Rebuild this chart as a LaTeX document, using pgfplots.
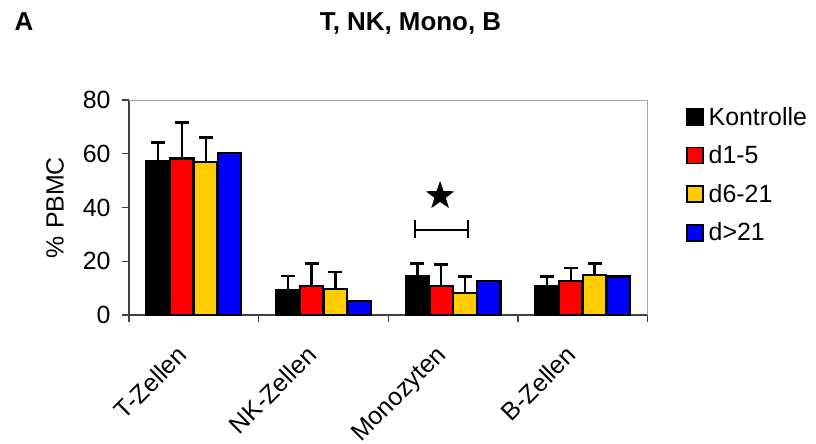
\documentclass[border=0pt]{standalone}
\usepackage{fontspec}
\setmainfont{Liberation Sans}
\usepackage{pgfplots}
\pgfplotsset{compat=1.18}
\usetikzlibrary{shapes.geometric}

\definecolor{cRed}{HTML}{FF0000}
\definecolor{cYel}{HTML}{FFCC00}
\definecolor{cBlu}{HTML}{0000FF}
\definecolor{axgray}{HTML}{404040}

\newcommand{\chartfont}{\fontsize{25}{30}\selectfont}

\pgfplotsset{
  errstyle/.style={
    error bars/y dir=plus, error bars/y explicit,
    error bars/error bar style={black, line width=2.4bp},
    error bars/error mark options={black, rotate=90, mark size=7bp, line width=2.4bp}},
}

\begin{document}
\begin{tikzpicture}[font=\chartfont]
\useasboundingbox (0,0) rectangle (816bp,444bp);
\begin{axis}[
  at={(129bp,129bp)}, anchor=south west,
  scale only axis, width=518.5bp, height=215bp,
  xmin=-0.5, xmax=3.5, ymin=0, ymax=80,
  ybar=0.5bp, bar width=23.3bp,
  axis x line*=bottom, axis y line*=left,
  axis line style={axgray, line width=1.3bp},
  tick style={axgray, line width=1.3bp},
  tick align=outside, major tick length=7bp,
  tick label style={font=\chartfont},
  label style={font=\chartfont},
  xtick={-0.5,0.5,1.5,2.5,3.5}, xticklabels={},
  extra x ticks={0,1,2,3},
  extra x tick labels={T-Zellen,NK-Zellen,Monozyten,B-Zellen},
  extra x tick style={major tick length=0pt,
    tick label style={anchor=north east, inner sep=0pt,
      xshift=-18bp, yshift=-29bp, rotate=45}},
  ytick={0,20,40,60,80},
  /pgf/number format/assume math mode=true,
  yticklabel style={xshift=-8bp},
  ylabel={\% PBMC},
  ylabel style={yshift=12bp},
  clip=false,
  legend style={draw=none, fill=none, at={(1.074,0.967)}, anchor=north west,
    row sep=19bp, inner sep=0pt, cells={anchor=west},
    nodes={inner xsep=5bp, inner ysep=0pt}, font=\chartfont},
  legend image code/.code={\draw[#1, draw=black, line width=1.6bp]
    (0bp,-8bp) rectangle (16bp,8bp);},
  every axis plot/.append style={draw=black, line width=2.2bp},
]
% Kontrolle
\addplot[fill=black, errstyle] coordinates {
  (0,57.3) +- (0,6.9)
  (1,9.3)  +- (0,5.3)
  (2,14.5) +- (0,4.7)
  (3,10.9) +- (0,3.4)};
% d1-5
\addplot[fill=cRed, errstyle] coordinates {
  (0,58.2) +- (0,13.4)
  (1,10.8) +- (0,8.3)
  (2,10.8) +- (0,8.0)
  (3,12.6) +- (0,5.0)};
% d6-21
\addplot[fill=cYel, errstyle] coordinates {
  (0,57.0) +- (0,9.1)
  (1,9.7)  +- (0,6.2)
  (2,8.3)  +- (0,6.0)
  (3,14.9) +- (0,4.2)};
% d>21
\addplot[fill=cBlu] coordinates {
  (0,60.4) (1,5.3) (2,12.8) (3,14.3)};
\legend{Kontrolle,d1-5,d6-21,d>21}

% thin frame on top and right
\draw[gray!70, line width=0.8bp] (rel axis cs:0,1) -- (rel axis cs:1,1) -- (rel axis cs:1,0);

% significance bracket between Kontrolle and d6-21 (Monozyten)
\draw[black, line width=2bp] (axis cs:1.707,31.6) -- (axis cs:2.116,31.6);
\draw[black, line width=2bp] (axis cs:1.707,28.8) -- (axis cs:1.707,35.3);
\draw[black, line width=2bp] (axis cs:2.116,28.8) -- (axis cs:2.116,35.3);
\node[star, star points=5, star point ratio=2.5, fill=black, inner sep=0pt,
  minimum size=30bp] at (axis cs:1.90,44.3) {};
\end{axis}
\node[anchor=base, font=\fontsize{26}{31}\selectfont\bfseries] at (410.5bp,413bp) {T, NK, Mono, B};
\node[anchor=base west, font=\fontsize{26}{31}\selectfont\bfseries] at (11bp,413bp) {A};
\end{tikzpicture}
\end{document}
